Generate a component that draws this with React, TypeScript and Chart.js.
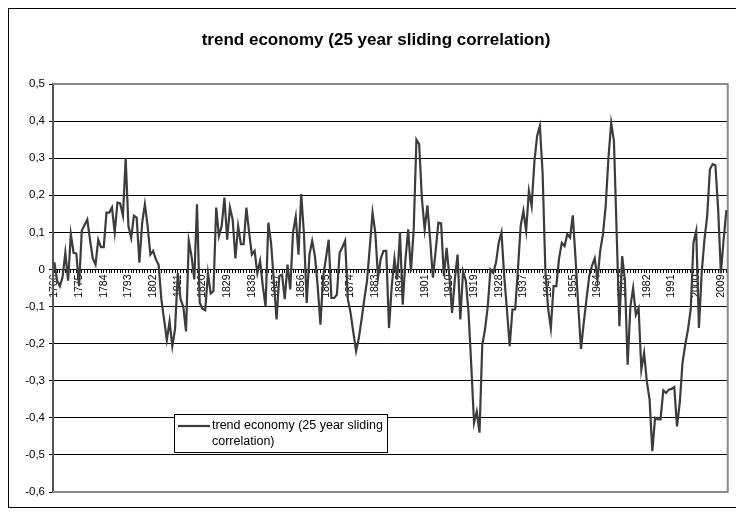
import React, { useEffect, useRef } from "react";
import { Chart, registerables } from "chart.js";

Chart.register(...registerables);

const TITLE = "trend economy (25 year sliding correlation)";
const SERIES_NAME = "trend economy (25 year sliding correlation)";
const LEGEND_LINES = ["trend economy (25 year sliding", "correlation)"];

const START_YEAR = 1766;
const LABEL_EVERY = 9;

// 25-year sliding correlation, one value per year from 1766 to 2011
const values: number[] = [
  // 1766-1775
  0.02, -0.03, -0.045, -0.02, 0.045, -0.03, 0.095, 0.045, 0.043, -0.045,
  // 1776-1785
  0.105, 0.12, 0.135, 0.08, 0.03, 0.013, 0.08, 0.06, 0.06, 0.153,
  // 1786-1795
  0.153, 0.167, 0.1, 0.18, 0.178, 0.145, 0.3, 0.117, 0.085, 0.145,
  // 1796-1805
  0.14, 0.018, 0.125, 0.176, 0.117, 0.04, 0.05, 0.027, 0.013, -0.08,
  // 1806-1815
  -0.135, -0.19, -0.14, -0.207, -0.16, -0.01, -0.08, -0.1, -0.167, 0.077,
  // 1816-1825
  0.036, -0.027, 0.176, -0.09, -0.106, -0.11, -0.01, -0.065, -0.058, 0.167,
  // 1826-1835
  0.09, 0.117, 0.194, 0.08, 0.167, 0.135, 0.03, 0.117, 0.068, 0.068,
  // 1836-1845
  0.167, 0.1, 0.04, 0.05, -0.01, 0.023, -0.045, -0.1, 0.126, 0.072,
  // 1846-1855
  -0.03, -0.135, -0.018, -0.014, -0.08, 0.013, -0.054, 0.1, 0.142, 0.04,
  // 1856-1865
  0.203, 0.095, -0.09, 0.04, 0.077, 0.036, -0.045, -0.149, -0.018, 0.03,
  // 1866-1875
  0.08, -0.077, -0.077, -0.068, 0.045, 0.06, 0.077, -0.08, -0.117, -0.17,
  // 1876-1885
  -0.22, -0.185, -0.135, -0.08, -0.03, 0.06, 0.153, 0.1, -0.022, 0.03,
  // 1886-1895
  0.05, 0.05, -0.158, -0.045, 0.03, -0.027, 0.1, -0.095, 0.027, 0.108,
  // 1896-1905
  -0.005, 0.108, 0.35, 0.338, 0.19, 0.108, 0.173, 0.08, -0.022, 0.05,
  // 1906-1915
  0.126, 0.124, -0.018, 0.058, -0.018, -0.117, -0.027, 0.04, -0.135, -0.005,
  // 1916-1925
  -0.03, -0.117, -0.26, -0.414, -0.383, -0.44, -0.203, -0.162, -0.1, 0,
  // 1926-1935
  -0.009, 0.018, 0.072, 0.1, -0.018, -0.108, -0.207, -0.108, -0.108, 0,
  // 1936-1945
  0.117, 0.158, 0.104, 0.212, 0.171, 0.29, 0.36, 0.387, 0.26, 0,
  // 1946-1955
  -0.104, -0.158, -0.045, -0.045, 0.03, 0.072, 0.063, 0.095, 0.086, 0.146,
  // 1956-1965
  0.03, -0.1, -0.214, -0.144, -0.08, -0.018, 0.01, 0.03, -0.027, 0.05,
  // 1966-1975
  0.095, 0.171, 0.3, 0.395, 0.347, 0.1, -0.153, 0.036, -0.027, -0.257,
  // 1976-1985
  -0.1, -0.05, -0.122, -0.104, -0.27, -0.225, -0.302, -0.351, -0.49, -0.4,
  // 1986-1995
  -0.404, -0.404, -0.326, -0.333, -0.324, -0.322, -0.317, -0.423, -0.36, -0.252,
  // 1996-2005
  -0.203, -0.162, -0.108, 0.072, 0.104, -0.158, -0.009, 0.08, 0.144, 0.27,
  // 2006-2011
  0.284, 0.281, 0.162, -0.01, 0.08, 0.16,
];

const years: string[] = values.map((_, i) => String(START_YEAR + i));

const Y_MIN = -0.6;
const Y_MAX = 0.5;
const Y_STEP = 0.1;

const FONT = "'Liberation Sans', Arial, sans-serif";
const LINE_COLOR = "#3c3c3c";

const decorPlugin = {
  id: "decor",
  beforeDatasetsDraw(chart: any) {
    const { ctx, chartArea } = chart;
    ctx.save();
    ctx.strokeStyle = "#8a8a8a";
    ctx.lineWidth = 2;
    ctx.beginPath();
    ctx.moveTo(chartArea.left, chartArea.top);
    ctx.lineTo(chartArea.right, chartArea.top);
    ctx.lineTo(chartArea.right, chartArea.bottom);
    ctx.lineTo(chartArea.left, chartArea.bottom);
    ctx.stroke();
    ctx.restore();
  },
  afterDraw(chart: any) {
    const { ctx, chartArea, width } = chart;
    ctx.save();
    // title
    ctx.fillStyle = "#000";
    ctx.font = `bold 17px ${FONT}`;
    ctx.textAlign = "center";
    ctx.textBaseline = "middle";
    ctx.fillText(TITLE, width / 2 + 1, 31);

    // legend box
    const lx = chartArea.left + 121;
    const ly = chartArea.top + 330;
    const lw = 213;
    const lh = 38;
    ctx.fillStyle = "#fff";
    ctx.fillRect(lx, ly, lw, lh);
    ctx.strokeStyle = "#000";
    ctx.lineWidth = 1;
    ctx.strokeRect(lx + 0.5, ly + 0.5, lw, lh);
    ctx.strokeStyle = LINE_COLOR;
    ctx.lineWidth = 2.2;
    ctx.beginPath();
    ctx.moveTo(lx + 4, ly + 12);
    ctx.lineTo(lx + 36, ly + 12);
    ctx.stroke();
    ctx.fillStyle = "#000";
    ctx.font = `12.5px ${FONT}`;
    ctx.textAlign = "left";
    ctx.textBaseline = "middle";
    ctx.fillText(LEGEND_LINES[0], lx + 38, ly + 12);
    ctx.fillText(LEGEND_LINES[1], lx + 38, ly + 28);
    ctx.restore();
  },
};

export default function App() {
  const ref = useRef<HTMLCanvasElement | null>(null);

  useEffect(() => {
    if (!ref.current) return;
    const chart = new Chart(ref.current, {
      type: "line",
      data: {
        labels: years,
        datasets: [
          {
            label: SERIES_NAME,
            data: values,
            borderColor: LINE_COLOR,
            backgroundColor: LINE_COLOR,
            borderWidth: 2.2,
            pointRadius: 0,
            tension: 0,
          },
        ],
      },
      options: {
        animation: false,
        responsive: false,
        events: [],
        layout: { padding: { top: 75, right: 10, bottom: 15, left: 0 } },
        plugins: {
          legend: { display: false },
          title: { display: false },
          tooltip: { enabled: false },
        },
        scales: {
          x: {
            type: "category",
            offset: true,
            position: { y: 0 } as any,
            grid: {
              drawOnChartArea: false,
              drawTicks: true,
              tickLength: 3,
              color: "#000",
              offset: false,
            },
            border: { display: true, color: "#000", width: 1 },
            ticks: {
              autoSkip: false,
              minRotation: 90,
              maxRotation: 90,
              padding: 2,
              color: "#000",
              font: { family: FONT, size: 10.5 },
              callback: (_v: any, i: number) => (i % LABEL_EVERY === 0 ? years[i] : ""),
            },
          },
          y: {
            min: Y_MIN,
            max: Y_MAX,
            afterFit: (s: any) => {
              s.width = 44;
            },
            grid: {
              color: "#000",
              lineWidth: 1,
              tickLength: 4,
            },
            border: { display: true, color: "#555", width: 2 },
            ticks: {
              stepSize: Y_STEP,
              padding: 4,
              color: "#000",
              font: { family: FONT, size: 11.5 },
              callback: (v: any) => {
                const r = Math.round(Number(v) * 10) / 10;
                return r === 0 ? "0" : r.toFixed(1).replace(".", ",");
              },
            },
          },
        },
      },
      plugins: [decorPlugin],
    });
    return () => chart.destroy();
  }, []);

  return (
    <div style={{ width: 732, height: 498, border: "1px solid #000", background: "#fff" }}>
      <canvas ref={ref} width={732} height={498} style={{ display: "block" }} />
    </div>
  );
}
